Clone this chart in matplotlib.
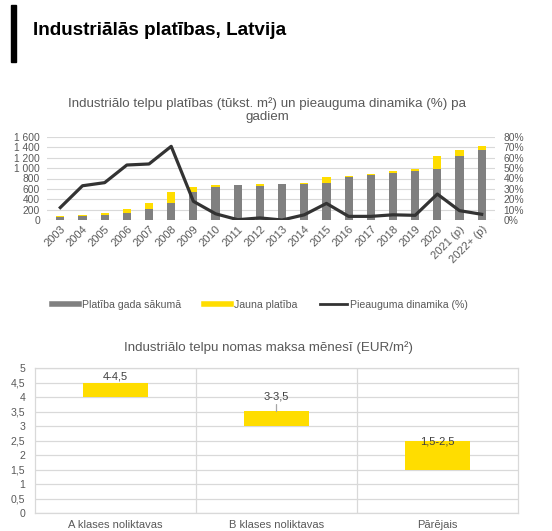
import matplotlib
matplotlib.use("Agg")
import matplotlib.pyplot as plt
from matplotlib.lines import Line2D
from matplotlib.patches import Rectangle
import numpy as np

plt.rcParams['font.family'] = ['Liberation Sans', 'DejaVu Sans']

# ---- data: top chart ----
years = ["2003", "2004", "2005", "2006", "2007", "2008", "2009", "2010", "2011",
         "2012", "2013", "2014", "2015", "2016", "2017", "2018", "2019", "2020",
         "2021 (p)", "2022+ (p)"]
area_start = [50, 70, 100, 140, 205, 320, 535, 630, 672, 665, 685, 685, 720,
              832, 862, 898, 940, 985, 1235, 1345]
area_new = [20, 30, 40, 65, 115, 220, 98, 40, 0, 25, 5, 35, 112, 25, 33, 43, 45,
            250, 110, 75]
growth_pct = [12, 33, 36, 53, 54, 71, 18, 6, 0.3, 2, 0, 5, 16, 3.5, 3.5, 5, 4.5,
              25, 9, 5.5]
left_ticks = [0, 200, 400, 600, 800, 1000, 1200, 1400, 1600]
left_labels = ["0", "200", "400", "600", "800", "1 000", "1 200", "1 400", "1 600"]
right_ticks = [0, 10, 20, 30, 40, 50, 60, 70, 80]

# ---- data: bottom chart ----
classes = ["A klases noliktavas", "B klases noliktavas", "Pārējais"]
rent_low = [4.0, 3.0, 1.5]
rent_high = [4.5, 3.5, 2.5]
rent_labels = ["4-4,5", "3-3,5", "1,5-2,5"]
rent_ticks = [0, 0.5, 1, 1.5, 2, 2.5, 3, 3.5, 4, 4.5, 5]

GREY = "#808080"
YELLOW = "#FFDD00"
LINE = "#333333"
TXT = "#595959"
GRID = "#d9d9d9"

W, H = 552, 531
fig = plt.figure(figsize=(W / 100, H / 100), dpi=100)

def px_axes(x0, y0, x1, y1):
    return fig.add_axes([x0 / W, 1 - y1 / H, (x1 - x0) / W, (y1 - y0) / H])

# header
fig.add_artist(Rectangle((11 / W, 1 - 62 / H), 5 / W, 57 / H, color="black",
                         transform=fig.transFigure))
fig.text(33 / W, 1 - 31 / H, "Industriālās platības, Latvija", fontsize=13.6,
         fontweight="bold", va="center", ha="left", color="black")

# ---- top chart ----
ax = px_axes(47, 137, 495, 220)
x = np.arange(len(years))
ax.bar(x, area_start, width=0.37, color=GREY, zorder=2)
ax.bar(x, area_new, bottom=area_start, width=0.37, color=YELLOW, zorder=2)
ax.set_ylim(0, 1600)
ax.set_xlim(-0.6, len(years) - 0.4)
ax.set_yticks(left_ticks)
ax.set_yticklabels(left_labels)
ax.yaxis.grid(True, color=GRID, lw=0.8, zorder=0)
ax.set_axisbelow(True)
for s in ax.spines.values():
    s.set_visible(False)
ax.tick_params(axis="y", length=0, labelsize=7.4, colors=TXT, pad=5)
ax.tick_params(axis="x", length=0, labelsize=8, colors=TXT, pad=3)
ax.set_xticks(x)
ax.set_xticklabels(years, rotation=45, ha="right", rotation_mode="anchor")

ax2 = ax.twinx()
ax2.plot(x, growth_pct, color=LINE, lw=2.3, zorder=3)
ax2.set_ylim(0, 80)
ax2.set_yticks(right_ticks)
ax2.set_yticklabels([f"{t}%" for t in right_ticks])
for s in ax2.spines.values():
    s.set_visible(False)
ax2.tick_params(axis="y", length=0, labelsize=7.4, colors=TXT, pad=6)

fig.text(267 / W, 1 - 110 / H,
         "Industriālo telpu platības (tūkst. m²) un pieauguma dinamika (%) pa\ngadiem",
         ha="center", va="center", fontsize=9.6, color=TXT, linespacing=1.05)

handles = [Line2D([], [], color=GREY, lw=4),
           Line2D([], [], color=YELLOW, lw=4),
           Line2D([], [], color=LINE, lw=2)]
leg = fig.legend(handles, ["Platība gada sākumā", "Jauna platība", "Pieauguma dinamika (%)"],
                 loc="center", bbox_to_anchor=(260 / W, 1 - 305 / H), ncol=3,
                 frameon=False, fontsize=7.6, handlelength=2.5, handletextpad=0.3,
                 columnspacing=2.2)
for t in leg.get_texts():
    t.set_color(TXT)

# ---- bottom chart ----
bx = px_axes(35, 368, 518, 513)
cx = np.arange(len(classes))
heights = [h - l for h, l in zip(rent_high, rent_low)]
bx.bar(cx, heights, bottom=rent_low, width=0.4, color=YELLOW, zorder=2)
bx.set_xlim(-0.5, len(classes) - 0.5)
bx.set_ylim(0, 5)
bx.set_yticks(rent_ticks)
bx.set_yticklabels([f"{t:g}".replace(".", ",") for t in rent_ticks])
bx.set_xticks(cx)
bx.set_xticklabels(classes)
bx.yaxis.grid(True, color=GRID, lw=0.9, zorder=0)
for b in np.arange(0.5, len(classes) - 0.5, 1):
    bx.axvline(b, color=GRID, lw=0.9, zorder=0)
for s in bx.spines.values():
    s.set_color(GRID)
    s.set_linewidth(0.9)
bx.tick_params(axis="y", length=0, labelsize=7.6, colors=TXT, pad=7)
bx.tick_params(axis="x", length=0, labelsize=8, colors=TXT, pad=5)

# data labels
bx.annotate(rent_labels[0], (cx[0], rent_high[0]), xytext=(0, 1), textcoords="offset points",
            ha="center", va="bottom", fontsize=8, color="#404040")
bx.annotate(rent_labels[1], (cx[1], rent_high[1]), xytext=(0, 7), textcoords="offset points",
            ha="center", va="bottom", fontsize=8, color="#404040",
            arrowprops=dict(arrowstyle="-", color="#a6a6a6", lw=0.9, shrinkA=0, shrinkB=0))
bx.annotate(rent_labels[2], (cx[2], rent_high[2]), xytext=(0, -4), textcoords="offset points",
            ha="center", va="bottom", fontsize=8, color="#404040")

fig.text(268 / W, 1 - 348 / H, "Industriālo telpu nomas maksa mēnesī (EUR/m²)",
         ha="center", va="center", fontsize=9.6, color=TXT)

fig.savefig("out.png", dpi=100)
